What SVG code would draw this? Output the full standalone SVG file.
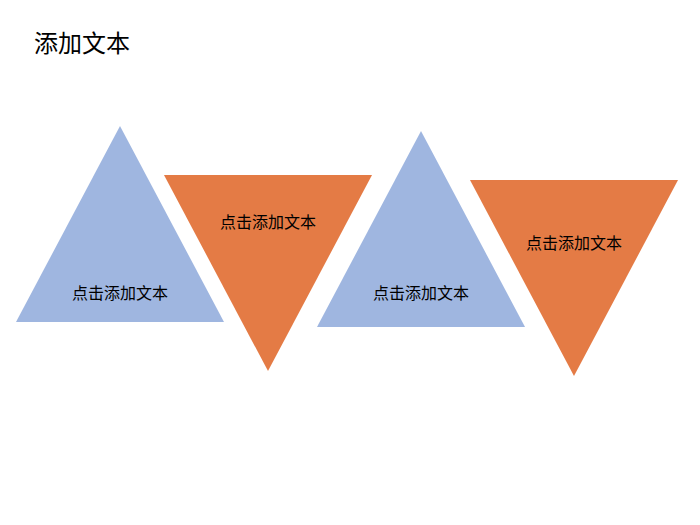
<svg xmlns="http://www.w3.org/2000/svg" width="700" height="525" viewBox="0 0 700 525">
<style>
.b{fill:#9FB6E0}.o{fill:#E47B45}
text{font-family:"Noto Sans CJK SC","Noto Sans",sans-serif;fill:#000}
.l{font-size:16px;text-anchor:middle}
</style>
<rect width="700" height="525" fill="#fff"/>
<text x="34" y="52" style="font-size:24px">添加文本</text>
<g id="t1"><polygon class="b" points="120,126 224,322 16,322"/><text class="l" x="120" y="299">点击添加文本</text></g>
<g id="t2"><polygon class="o" points="164,175 372,175 268,371"/><text class="l" x="268" y="228">点击添加文本</text></g>
<g id="t3"><polygon class="b" points="421,131 525,327 317,327"/><text class="l" x="421" y="299">点击添加文本</text></g>
<g id="t4"><polygon class="o" points="470,180 678,180 574,376"/><text class="l" x="574" y="249">点击添加文本</text></g>
<g id="connectors"/>
</svg>
